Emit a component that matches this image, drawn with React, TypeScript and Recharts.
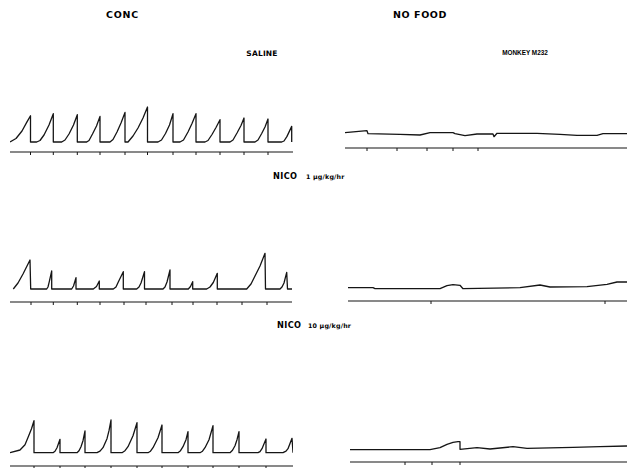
import React from 'react';
import { LineChart, Line, XAxis, YAxis } from 'recharts';

// Cumulative records: [time, cumulative responses since last reset]
const salineConc: [number, number][] = [
  [0, 0], [6, 3.5], [12, 11], [16.7, 19.6], [20.5, 26.3], [20.5, 0],
  [26.7, 0], [30, 1.5], [34, 7], [39, 17], [43.3, 28.3], [43.3, 0],
  [51.7, 0], [55, 2], [59, 8], [63.5, 17], [67.3, 27.3], [67.3, 0],
  [76.7, 0], [79, 1.5], [82.5, 8], [86.5, 16], [90, 25.6], [90, 0],
  [100, 0], [103, 2.5], [107, 10], [111, 19], [115, 29.6], [115, 0],
  [118, 0], [123, 6], [128, 14], [133, 24], [137.5, 35], [137.5, 0],
  [148, 0], [151.5, 2], [155.5, 8.5], [159.5, 17], [163, 28.3], [163, 0],
  [170, 0], [173.5, 2], [178, 10], [182, 18.5], [186, 28.3], [186, 0],
  [195, 0], [198, 1.5], [202, 7.5], [206, 14.5], [210, 22.3], [210, 0],
  [220, 0], [223, 2], [227, 9], [231, 16.5], [234, 24], [234, 0],
  [245, 0], [248, 2], [251.7, 8.5], [255, 15], [258, 23], [258, 0],
  [271.7, 0], [274, 1], [277, 5.6], [281.7, 15.6], [281.7, 0],
];
const salineConcEvents = [20.5, 43.3, 67.3, 90, 115, 137.5, 163, 186, 210, 234, 258];

const salineNoFood: [number, number][] = [
  [0, 1.3], [22, 3.3], [23, 0.3], [55, -0.3], [75, -1], [85, 1.3], [108, 1.3],
  [110, 0.3], [120, -1.7], [132, 0], [148, 0], [149, -2.7], [152, 0.7], [192, 0.7],
  [215, -0.3], [232, -1.3], [252, -1.3], [258, 0.3], [282, 0.3],
];
const salineNoFoodEvents = [22, 52, 82, 108, 133];

const nico1Conc: [number, number][] = [
  [3.3, 0], [8, 6], [13, 15], [20, 29], [20.7, 0],
  [36.7, 0], [38, 2], [39.3, 7.3], [41.7, 18], [41.7, 0],
  [61.7, 0], [63.5, 3], [66, 11.3], [66, 0],
  [83.3, 0], [86.5, 2.5], [89.3, 8], [89.3, 0],
  [103.3, 0], [106, 2], [108.3, 7], [113.3, 17.3], [113.3, 0],
  [126.7, 0], [129, 2], [131, 6], [134.5, 17.3], [134.5, 0],
  [153, 0], [155, 2], [157, 7], [160, 19], [160, 0],
  [178.3, 0], [180.5, 2.5], [182.7, 7.3], [182.7, 0],
  [196.7, 0], [200, 2], [203.3, 6.5], [207.3, 15.7], [207.3, 0],
  [236.7, 0], [241, 5], [245, 13], [250, 23], [255, 35.7], [255.5, 0],
  [270, 0], [272, 2], [274, 6], [276.7, 16.7], [277.5, 0], [282, 0],
];
const nico1ConcEvents = [21, 43.3, 67.3, 90, 114, 136, 162, 183, 207, 232, 257];

const nico1NoFood: [number, number][] = [
  [0, 1.3], [25, 1.3], [27, 0.3], [92, 0.3], [99, 3.3], [105, 4.3], [112, 3.7],
  [115, 0.3], [172, 1.3], [192, 4], [202, 2], [239, 2.3], [259, 4.7], [269, 7], [279, 7],
];
const nico1NoFoodEvents = [83, 257];

const nico10Conc: [number, number][] = [
  [0, 0], [10, 2.7], [15, 8], [18.3, 16], [21.5, 24], [24, 32], [24, 0],
  [43, 0], [45, 1.5], [47, 5], [50, 13.4], [50, 0],
  [67, 0], [69, 2], [71, 6], [73, 12], [75, 21.7], [75, 0],
  [87, 0], [90, 1.5], [93, 5], [97, 14], [99, 22], [101, 32.7], [101, 0],
  [112, 0], [115, 2], [118, 6], [123, 17], [127, 30], [127, 0],
  [138, 0], [140.5, 1.5], [143, 5], [148, 15], [152, 27.7], [152, 0],
  [168, 0], [170.5, 2], [173, 6], [176, 13], [178, 21], [178, 0],
  [190, 0], [192.5, 1.5], [195, 5], [199, 13], [203, 27], [203, 0],
  [220, 0], [222.5, 2.5], [225, 7], [227, 13], [229, 21], [229, 0],
  [248, 0], [250, 1], [252, 4], [256, 13.7], [256, 0],
  [273, 0], [276, 1.5], [278, 4], [282, 14.4], [283, 0],
];
const nico10ConcEvents = [24, 50, 75, 101, 127, 152, 178, 203, 229, 256];

const nico10NoFood: [number, number][] = [
  [0, 0.3], [80, 0.3], [90, 2.3], [97, 5.7], [103, 7.7], [108, 8.3], [110, 8.3],
  [110, 0.7], [127, 2.3], [140, 1], [163, 3.3], [177, 1.7], [223, 2.7], [250, 3.3], [277, 4],
];
const nico10NoFoodEvents = [55, 82, 110];

const toRows = (pts: [number, number][]) => pts.map(([t, r]) => ({ t, r }));

type PanelProps = {
  pts: [number, number][];
  events: number[];
  left: number;
  top: number;
  width: number;
  plotH: number;
  yMin: number;
  xMax: number;
};

const AXIS_H = 6;
const INK = '#151515';

function Record({ pts, events, left, top, width, plotH, yMin, xMax }: PanelProps) {
  return (
    <div style={{ position: 'absolute', left, top }}>
      <LineChart
        width={width}
        height={plotH + AXIS_H}
        data={toRows(pts)}
        margin={{ top: 0, right: 0, bottom: 0, left: 0 }}
      >
        <XAxis
          dataKey="t"
          type="number"
          domain={[0, xMax]}
          ticks={events}
          interval={0}
          height={AXIS_H}
          tickFormatter={() => ''}
          tickSize={3}
          tickLine={{ stroke: INK, strokeWidth: 1 }}
          axisLine={{ stroke: INK, strokeWidth: 1.2 }}
          allowDataOverflow
        />
        <YAxis hide type="number" domain={[yMin, plotH + yMin]} />
        <Line
          type="linear"
          dataKey="r"
          stroke={INK}
          strokeWidth={1.3}
          dot={false}
          isAnimationActive={false}
          strokeLinejoin="round"
        />
      </LineChart>
    </div>
  );
}

const heavy = '"DejaVu Sans", "Liberation Sans", sans-serif';

export default function App() {
  return (
    <div
      style={{
        position: 'absolute',
        left: 0,
        top: 0,
        width: 627,
        height: 468,
        overflow: 'hidden',
        background: '#fff',
      }}
    >
      <svg width={627} height={468} style={{ position: 'absolute', left: 0, top: 0 }}>
        <g fill="#000" fontFamily={heavy} fontWeight={900}>
          <text x={122.5} y={18.3} fontSize={9.5} letterSpacing={0.8} textAnchor="middle">CONC</text>
          <text x={420} y={17.6} fontSize={9.5} letterSpacing={0.6} textAnchor="middle">NO FOOD</text>
          <text x={262} y={55.6} fontSize={7.5} letterSpacing={0.2} textAnchor="middle">SALINE</text>
          <text x={525} y={55} fontSize={6.4} fontFamily='"Liberation Sans", sans-serif' textAnchor="middle">MONKEY M232</text>
          <text x={273} y={178.7} fontSize={8.2} letterSpacing={0.4}>NICO</text>
          <text x={306} y={178.7} fontSize={6.3} letterSpacing={0.2}>1 µg/kg/hr</text>
          <text x={277} y={327.7} fontSize={8.2} letterSpacing={0.4}>NICO</text>
          <text x={308} y={327.7} fontSize={6.3} letterSpacing={0.2}>10 µg/kg/hr</text>
        </g>
      </svg>
      <Record pts={salineConc} events={salineConcEvents} left={10} top={100} width={283} plotH={52} yMin={-10} xMax={283} />
      <Record pts={salineNoFood} events={salineNoFoodEvents} left={345} top={100} width={282} plotH={48} yMin={-14} xMax={282} />
      <Record pts={nico1Conc} events={nico1ConcEvents} left={10} top={250} width={282} plotH={52} yMin={-13} xMax={282} />
      <Record pts={nico1NoFood} events={nico1NoFoodEvents} left={348} top={250} width={279} plotH={51} yMin={-12} xMax={279} />
      <Record pts={nico10Conc} events={nico10ConcEvents} left={10} top={410} width={283} plotH={56} yMin={-13.3} xMax={283} />
      <Record pts={nico10NoFood} events={nico10NoFoodEvents} left={350} top={410} width={277} plotH={52} yMin={-12} xMax={277} />
    </div>
  );
}
